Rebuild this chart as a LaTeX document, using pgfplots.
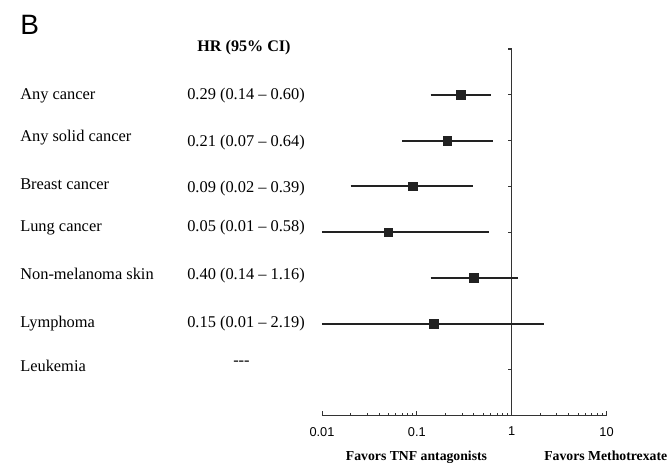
\documentclass[border=0pt]{standalone}
\usepackage{pgfplots}
\pgfplotsset{compat=1.18}
\usepackage{fontspec}
\setmainfont{Liberation Serif}
\newfontfamily\arialf{Liberation Sans}
\definecolor{ink}{HTML}{222222}
\definecolor{axisgray}{HTML}{333333}
\begin{document}
\begin{tikzpicture}[x=0.75pt,y=0.75pt]
\path[use as bounding box] (0,0) rectangle (669,466);
\begin{axis}[
  at={(241.5pt,37.9pt)}, anchor=south west,
  scale only axis, width=213.4pt, height=274.9pt,
  xmode=log, xmin=0.01, xmax=10, ymin=-8, ymax=0,
  axis x line*=bottom, hide y axis,
  xtick={0.01,0.1,1,10}, xticklabels={0.01,0.1,1,10},
  minor xtick={0.02,0.03,0.04,0.05,0.06,0.07,0.08,0.09,0.2,0.3,0.4,0.5,0.6,0.7,0.8,0.9,2,3,4,5,6,7,8,9},
  tick align=inside, major tick length=3pt, minor tick length=2pt,
  x axis line style={axisgray, line width=0.9pt},
  every tick/.style={axisgray, line width=0.7pt},
  xticklabel style={font=\arialf\fontsize{9.6}{11}\selectfont, inner sep=0pt, anchor=north, yshift=-8.6pt},
  clip=false,
]
\draw[axisgray, line width=0.9pt] (axis cs:1,0) -- (axis cs:1,-8);
\pgfplotsinvokeforeach{0,...,7}{
  \draw[axisgray, line width=0.9pt] (axis cs:1,-#1) -- ++(-2.5pt,0pt);
}
\addplot[ink, line width=1.5pt] coordinates {(0.14,-1) (0.60,-1)};
\addplot[ink, line width=1.5pt] coordinates {(0.07,-2) (0.64,-2)};
\addplot[ink, line width=1.5pt] coordinates {(0.02,-3) (0.39,-3)};
\addplot[ink, line width=1.5pt] coordinates {(0.01,-4) (0.58,-4)};
\addplot[ink, line width=1.5pt] coordinates {(0.14,-5) (1.16,-5)};
\addplot[ink, line width=1.5pt] coordinates {(0.01,-6) (2.19,-6)};
\addplot[only marks, mark=square*, mark size=3.25pt, ink] coordinates {(0.29,-1) (0.21,-2) (0.09,-3) (0.05,-4) (0.40,-5) (0.15,-6)};
\end{axis}
% panel letter
\node[anchor=base west, inner sep=0pt, font=\arialf\fontsize{21}{24}\selectfont] at (20,431) {B};
% header
\node[anchor=base, inner sep=0pt, font=\bfseries\fontsize{12.1}{14}\selectfont] at (244,414) {HR (95\% CI)};
% row labels
\begin{scope}[every node/.style={anchor=base west, inner sep=0pt, font=\fontsize{12.3}{14}\selectfont}]
\node at (20,366) {Any cancer};
\node at (20,324) {Any solid cancer};
\node at (20,276) {Breast cancer};
\node at (20,234) {Lung cancer};
\node at (20,186) {Non-melanoma skin};
\node at (20,138) {Lymphoma};
\node at (20,94) {Leukemia};
\node at (187,366) {0.29 (0.14 -- 0.60)};
\node at (187,319) {0.21 (0.07 -- 0.64)};
\node at (187,273) {0.09 (0.02 -- 0.39)};
\node at (187,234) {0.05 (0.01 -- 0.58)};
\node at (187,186) {0.40 (0.14 -- 1.16)};
\node at (187,138) {0.15 (0.01 -- 2.19)};
\node at (233,100) {-{}-{}-};
\end{scope}
% footer
\node[anchor=base, inner sep=0pt, font=\bfseries\fontsize{10.3}{12}\selectfont] at (416.5,5) {Favors TNF antagonists};
\node[anchor=base west, inner sep=0pt, font=\bfseries\fontsize{10.3}{12}\selectfont] at (544,5) {Favors Methotrexate};
\end{tikzpicture}
\end{document}
